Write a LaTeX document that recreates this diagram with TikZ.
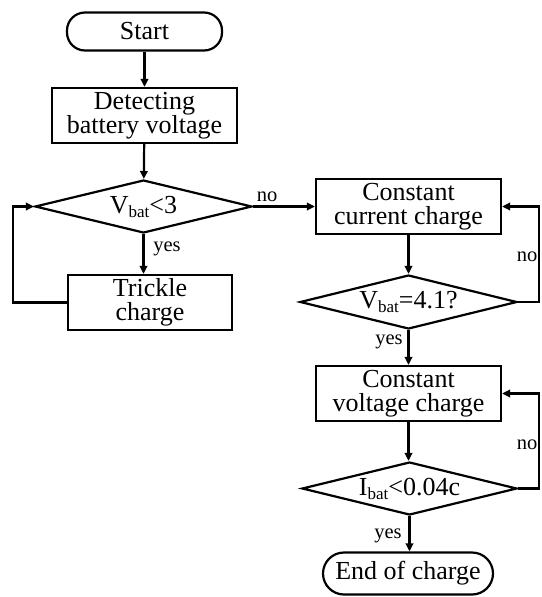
\documentclass[tikz,border=0pt]{standalone}
\usepackage{fontspec}
\setmainfont{Liberation Serif}
\usetikzlibrary{shapes.geometric,arrows.meta}

\newcommand{\sbt}[1]{\raisebox{-4pt}{\fontsize{17}{17}\selectfont #1}}

\tikzset{
  box/.style={draw, line width=2.2pt, rectangle, minimum width=185pt, minimum height=55pt,
    inner sep=0pt, align=center, font=\fontsize{26}{24.5}\selectfont},
  term/.style={draw, line width=2.2pt, rectangle, rounded corners=20pt, minimum height=42pt,
    inner sep=0pt, align=center, font=\fontsize{26}{24.5}\selectfont},
  test/.style={draw, line width=2.2pt, diamond, aspect=4.1, minimum width=217pt, minimum height=53pt,
    inner sep=0pt, align=center, font=\fontsize{26}{24.5}\selectfont},
  flow/.style={line width=2.2pt, -{Triangle[length=8pt,width=7.5pt]}},
  lbl/.style={font=\fontsize{20.5}{22}\selectfont, inner sep=0pt}
}

\begin{document}
\begin{tikzpicture}[x=1pt,y=-1pt]
  \useasboundingbox (0,0) rectangle (541,597);

  % left column
  \node[term, minimum width=155pt, minimum height=38pt, rounded corners=18pt] (start) at (144.5,31.5) {Start};
  \node[box] (detect) at (144.5,115.5) {Detecting\\battery voltage};
  \node[test] (d1) at (143.5,206.5) {V\sbt{bat}<3};
  \node[box, minimum width=164pt] (trickle) at (150,302.5) {Trickle\\charge};

  % right column
  \node[box] (cc) at (408.5,206.5) {Constant\\current charge};
  \node[test, minimum height=54pt] (d2) at (408.5,302) {V\sbt{bat}=4.1?};
  \node[box] (cv) at (408.5,393.5) {Constant\\voltage charge};
  \node[test, minimum width=215pt] (d3) at (409.5,488.5) {I\sbt{bat}<0.04c};
  \node[term, minimum width=170pt, rounded corners=21pt] (stop) at (408,573.5) {End of charge};

  % loop-back corners
  \coordinate (lt) at (13,302.5);
  \coordinate (r1) at (539,302);
  \coordinate (r2) at (539,488.5);

  % connectors
  \draw[flow] (start) -- (detect);
  \draw[flow] (detect) -- (d1);
  \draw[flow] (d1.east) -- (cc.west);
  \draw[flow] (d1.south) -- (d1.south |- trickle.north);
  \draw[flow] (trickle.west) -- (lt) |- (d1.west);
  \draw[flow] (cc) -- (d2);
  \draw[flow] (d2.east) -- (r1) |- (cc.east);
  \draw[flow] (d2) -- (cv);
  \draw[flow] (cv.south) -- (cv.south |- d3.north);
  \draw[flow] (d3.east) -- (r2) |- (cv.east);
  \draw[flow] (d3.south) -- (d3.south |- stop.north);

  % branch labels
  \node[lbl] (n1) at (267,197) {no};
  \node[lbl] (y1) at (167,249) {yes};
  \node[lbl] (n2) at (527,257) {no};
  \node[lbl] (y2) at (389,342) {yes};
  \node[lbl] (n3) at (527,445) {no};
  \node[lbl] (y3) at (388,536) {yes};
\end{tikzpicture}
\end{document}
